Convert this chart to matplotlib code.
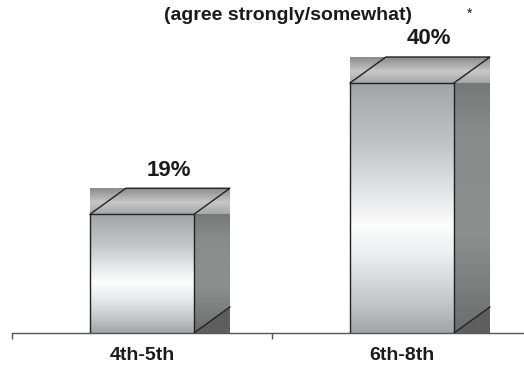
import numpy as np
import matplotlib
matplotlib.use("Agg")
import matplotlib.pyplot as plt
from matplotlib.colors import LinearSegmentedColormap
from matplotlib.patches import Polygon

plt.rcParams["font.family"] = ["Liberation Sans", "DejaVu Sans"]

# -- Data --
categories = ["4th-5th", "6th-8th"]
values = [19, 40]
title = "(agree strongly/somewhat)"

# -- Shading for the 3D faces --
front_cmap = LinearSegmentedColormap.from_list(
    "front", [(0.0, "#a2a4a6"), (0.25, "#c2c4c6"), (0.57, "#fdfdfd"),
              (0.68, "#eeeff0"), (0.88, "#c4c6c8"), (1.0, "#a2a4a6")])
side_cmap = LinearSegmentedColormap.from_list(
    "side", [(0.0, "#767878"), (0.2, "#8a8c8c"), (0.6, "#8e9090"), (1.0, "#6c6c6c")])
top_cmap = LinearSegmentedColormap.from_list(
    "top", [(0.0, "#8a8a8a"), (0.55, "#c8c8c8"), (1.0, "#a6a6a6")])
grad = np.linspace(0, 1, 256).reshape(-1, 1)

fig = plt.figure(figsize=(5.24, 3.65), dpi=100)
ax = fig.add_axes([12 / 524, 32 / 365, 520 / 524, 333 / 365])
ax.set_xlim(-0.5, 1.5)
ax.set_ylim(0, 333 / 6.25)

half = 0.2      # half width of the front face
dx, dy = 0.138, 4.16  # depth offset of the box
edge = "#222222"

for i, v in enumerate(values):
    x0, x1 = i - half, i + half
    # front face (gradient runs top to bottom)
    ax.imshow(grad, cmap=front_cmap, extent=[x0, x1, 0, v], origin="upper",
              aspect="auto", zorder=2)
    # side face
    ax.imshow(grad, cmap=side_cmap, extent=[x1, x1 + dx, 0, v], origin="upper",
              aspect="auto", zorder=2)
    ax.add_patch(Polygon([(x1, 0), (x1 + dx, dy), (x1 + dx, 0)], closed=True,
                         facecolor="#5e5e5e", edgecolor="none", zorder=3))
    # top band
    ax.imshow(grad, cmap=top_cmap, extent=[x0, x1 + dx, v, v + dy], origin="upper",
              aspect="auto", zorder=2)

    # outlines
    ax.plot([x0, x0, x1, x1], [0, v, v, 0], color=edge, lw=1.0, zorder=4)
    ax.plot([x0, x0 + dx, x1 + dx, x1], [v, v + dy, v + dy, v], color=edge, lw=1.0, zorder=4)
    ax.plot([x1, x1 + dx], [0, dy], color=edge, lw=1.0, zorder=4)

    ax.text(i + 0.105, v + dy + 2.9, f"{v}%", ha="center", va="center",
            fontsize=16, fontweight="bold", color="#1a1a1a", zorder=5)

# -- Axis styling --
for side in ["top", "right", "left"]:
    ax.spines[side].set_visible(False)
ax.spines["bottom"].set_color("#555555")
ax.spines["bottom"].set_linewidth(1.0)
ax.set_yticks([])
ax.set_xticks(range(len(categories)))
ax.set_xticklabels(categories, fontsize=14, fontweight="bold", color="#1a1a1a")
ax.tick_params(axis="x", which="major", length=0, pad=10)
ax.set_xticks([-0.5, 0.5, 1.5], minor=True)
ax.tick_params(axis="x", which="minor", length=4, width=1.0, color="#555555")

fig.text(287.5 / 524, 1 - 15 / 365, title, ha="center", va="center",
         fontsize=14, fontweight="bold", color="#1a1a1a")
fig.text(470 / 524, 1 - 14 / 365, "*", ha="center", va="center",
         fontsize=10, color="#1a1a1a")

fig.savefig("out.png", dpi=100)
